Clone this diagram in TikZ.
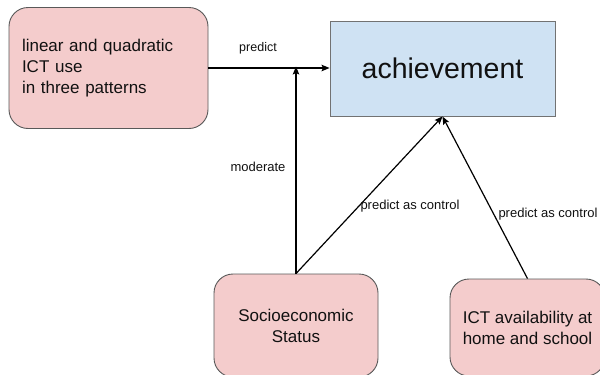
\documentclass[tikz,border=0pt]{standalone}
\usepackage{fontspec}
\setmainfont{Liberation Sans}
\usetikzlibrary{arrows.meta}
\definecolor{pinkfill}{HTML}{F4CCCC}
\definecolor{bluefill}{HTML}{CFE2F3}
\definecolor{edgegray}{HTML}{595959}
\definecolor{txt}{HTML}{111111}
\tikzset{
  pinkbox/.style={draw=edgegray, line width=0.9pt, fill=pinkfill, rounded corners=19pt, text=txt,
    font=\fontsize{17}{21}\selectfont},
  bluebox/.style={draw=edgegray!85, line width=0.9pt, fill=bluefill, text=txt,
    font=\fontsize{28.5}{32}\selectfont},
  arr/.style={draw=black, line width=1.2pt, -{Stealth[length=8pt,width=6.5pt,inset=1.5pt]}},
  lab/.style={text=txt, font=\fontsize{13}{15}\selectfont, inner sep=0pt}
}
\begin{document}
\begin{tikzpicture}[x=1pt,y=-1pt]
\useasboundingbox (0,0) rectangle (600,375);
\clip (0,0) rectangle (600,375);
\fill[white] (0,0) rectangle (600,375);
% nodes
\node[pinkbox, minimum width=199pt, minimum height=121pt, inner xsep=13pt, text width=173pt, align=left]
  (lb) at (108.5,68) {linear and quadratic\\ICT use\\in three patterns};
\node[bluebox, minimum width=225pt, minimum height=95pt, inner sep=0pt]
  (ach) at (442.5,68.5) {achievement};
\node[pinkbox, minimum width=164pt, minimum height=103pt, align=center, inner sep=0pt]
  (ses) at (296,325.5) {Socioeconomic\\Status};
\node[pinkbox, minimum width=155pt, minimum height=97pt, align=center, inner sep=0pt]
  (ict) at (527.5,327.5) {ICT availability at\\home and school};
% connectors
\draw[arr] (lb.east) -- (lb.east -| ach.west);
\draw[arr] (ses.north) -- ([yshift=1.5pt]ses.north |- lb.east);
\draw[arr] (ses.north) -- (ach.south);
\draw[arr] (ict.north) -- (ach.south);
% labels
\node[lab, font=\fontsize{12.5}{14}\selectfont] (lpred) at (258,48) {predict};
\node[lab] (lmod) at (258,167) {moderate};
\node[lab] (lses) at (410,206) {predict as control};
\node[lab] (lict) at (548,214) {predict as control};
\end{tikzpicture}
\end{document}
